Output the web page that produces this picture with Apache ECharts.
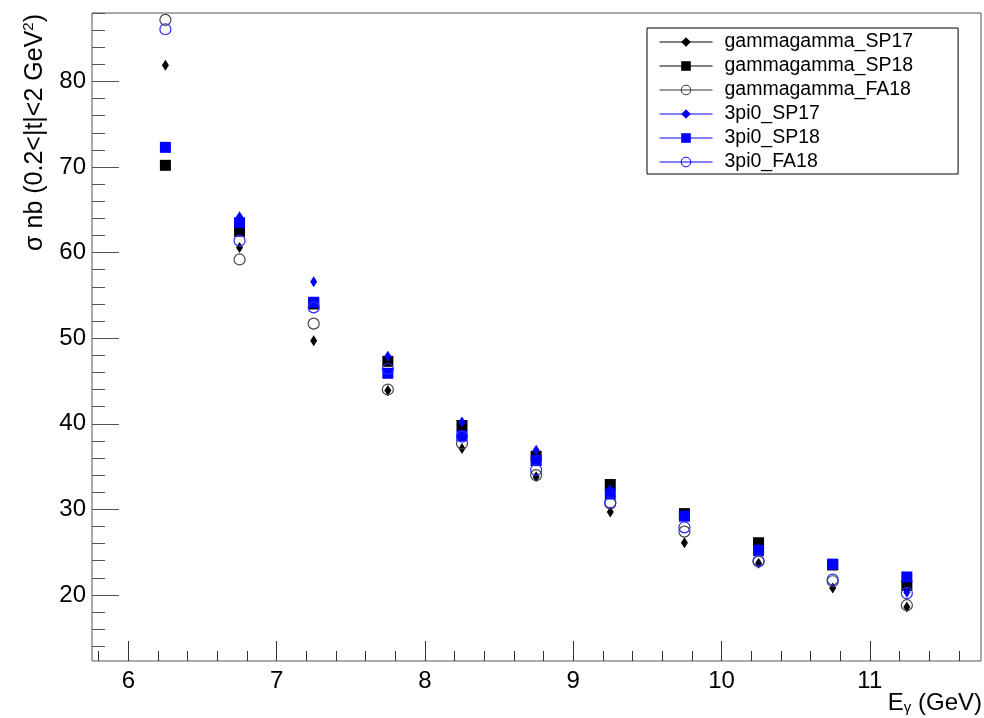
<!DOCTYPE html>
<html>
<head>
<meta charset="utf-8">
<script src="https://cdn.jsdelivr.net/npm/echarts@6/dist/echarts.min.js"></script>
<style>
  html, body { margin: 0; padding: 0; background: #fff; }
  #chart { width: 984px; height: 718px; }
</style>
</head>
<body>
<div id="chart"></div>
<script>
// beam energy bins (GeV)
const energies = [6.25, 6.75, 7.25, 7.75, 8.25, 8.75, 9.25, 9.75, 10.25, 10.75, 11.25];

// cross sections, nb
const ggSP17 = [81.9, 60.6, 49.7, 43.9, 37.1, 33.8, 29.7, 26.1, 23.7, 20.8, 18.6];
const ggSP18 = [70.2, 62.5, 54.0, 47.3, 39.8, 36.2, 32.9, 29.5, 26.1, 23.5, 21.1];
const ggFA18 = [87.2, 59.2, 51.7, 44.0, 37.7, 34.0, 30.7, 27.4, 23.9, 21.6, 18.8];
const piSP17 = [null, 64.2, 56.6, 47.9, 40.2, 36.9, 32.3, 29.3, 25.4, 23.6, 20.3];
const piSP18 = [72.3, 63.5, 54.2, 45.9, 38.6, 35.7, 31.8, 29.2, 25.2, 23.6, 22.1];
const piFA18 = [86.1, 61.4, 53.6, 46.4, 38.5, 34.6, 30.8, 27.9, 24.0, 21.8, 20.2];

// axis ticks
const xMajor = [6, 7, 8, 9, 10, 11];
const xMinor = [5.8, 6.2, 6.4, 6.6, 6.8, 7.2, 7.4, 7.6, 7.8, 8.2, 8.4, 8.6, 8.8,
  9.2, 9.4, 9.6, 9.8, 10.2, 10.4, 10.6, 10.8, 11.2, 11.4, 11.6];
const yMajor = [20, 30, 40, 50, 60, 70, 80];
const yMinor = [14, 16, 18, 22, 24, 26, 28, 32, 34, 36, 38, 42, 44, 46, 48,
  52, 54, 56, 58, 62, 64, 66, 68, 72, 74, 76, 78, 82, 84, 86, 88];

const FONT = '"Liberation Sans", Arial, sans-serif';
const BLUE = '#0000ff';
const DIAMOND = 'path://M3,0L6,5L3,10L0,5Z';

const chart = echarts.init(document.getElementById('chart'), null, { renderer: 'canvas' });

const pairs = vals => energies.map((e, i) => [e, vals[i]]).filter(p => p[1] != null);

const mk = (name, vals, symbol, size, color, hollow) => ({
  name: name,
  type: 'line',
  data: pairs(vals),
  symbol: symbol,
  symbolSize: size,
  showAllSymbol: true,
  lineStyle: { opacity: 0, color: color },
  itemStyle: hollow
    ? { color: 'rgba(0,0,0,0)', borderColor: color, borderWidth: 1.2 }
    : { color: color },
  emphasis: { disabled: true },
  animation: false
});

const series = [
  mk('gammagamma_SP17', ggSP17, DIAMOND, [7, 11], '#000', false),
  mk('gammagamma_SP18', ggSP18, 'rect', 11, '#000', false),
  mk('gammagamma_FA18', ggFA18, 'circle', 11, '#444', true),
  mk('3pi0_SP17', piSP17, DIAMOND, [7, 11], BLUE, false),
  mk('3pi0_SP18', piSP18, 'rect', 11, BLUE, false),
  mk('3pi0_FA18', piFA18, 'circle', 11, '#2a2aff', true)
];

const legendItem = (name, color, hollow) => ({
  name: name,
  lineStyle: { color: color, width: 1, opacity: 1 },
  itemStyle: hollow
    ? { color: 'rgba(0,0,0,0)', borderColor: color, borderWidth: 1 }
    : { color: color }
});

const option = {
  animation: false,
  backgroundColor: '#fff',
  grid: {
    left: 92, right: 3, top: 13, bottom: 57,
    show: true, borderColor: '#555', borderWidth: 1, backgroundColor: 'transparent'
  },
  xAxis: [
    {
      type: 'value', min: 5.755, max: 11.75,
      axisLine: { show: false },
      splitLine: { show: false },
      axisTick: { inside: true, length: 20, customValues: xMajor, lineStyle: { color: '#333' } },
      axisLabel: { customValues: xMajor, fontSize: 24, fontFamily: FONT, color: '#000', margin: 8 }
    },
    {
      type: 'value', min: 5.755, max: 11.75, position: 'bottom',
      axisLine: { show: false },
      splitLine: { show: false },
      axisTick: { inside: true, length: 10, customValues: xMinor, lineStyle: { color: '#333' } },
      axisLabel: { show: false }
    }
  ],
  yAxis: [
    {
      type: 'value', min: 12.28, max: 88.0,
      axisLine: { show: false },
      splitLine: { show: false },
      axisTick: { inside: true, length: 27, customValues: yMajor, lineStyle: { color: '#555' } },
      axisLabel: { customValues: yMajor, fontSize: 24, fontFamily: FONT, color: '#000', margin: 6 }
    },
    {
      type: 'value', min: 12.28, max: 88.0, position: 'left',
      axisLine: { show: false },
      splitLine: { show: false },
      axisTick: { inside: true, length: 13, customValues: yMinor, lineStyle: { color: '#555' } },
      axisLabel: { show: false }
    }
  ],
  legend: {
    orient: 'vertical',
    left: 647, top: 28,
    itemWidth: 53, itemHeight: 12, itemGap: 4,
    padding: [4, 45, 2, 12],
    borderColor: '#000', borderWidth: 1,
    backgroundColor: '#fff',
    selectedMode: false,
    textStyle: { fontSize: 19.5, lineHeight: 20, fontFamily: FONT, color: '#000', padding: [0, 0, 0, 7] },
    data: [
      legendItem('gammagamma_SP17', '#000', false),
      legendItem('gammagamma_SP18', '#000', false),
      legendItem('gammagamma_FA18', '#333', true),
      legendItem('3pi0_SP17', BLUE, false),
      legendItem('3pi0_SP18', BLUE, false),
      legendItem('3pi0_FA18', BLUE, true)
    ]
  },
  graphic: [
    {
      type: 'text', x: 35, y: 14, rotation: Math.PI / 2,
      style: {
        text: '{a|σ nb (0.2<|t|<2 GeV}{s|2}{a|)}',
        textAlign: 'right',
        textVerticalAlign: 'middle',
        rich: {
          a: { fontSize: 25, fontFamily: FONT, color: '#000' },
          s: { fontSize: 15, fontFamily: FONT, color: '#000', padding: [0, 0, 12, 0] }
        }
      }
    },
    {
      type: 'text', x: 982, y: 703,
      style: {
        text: '{a|E}{g|γ}{a| (GeV)}',
        textAlign: 'right',
        textVerticalAlign: 'middle',
        rich: {
          a: { fontSize: 24, fontFamily: FONT, color: '#000' },
          g: { fontSize: 15, fontFamily: FONT, color: '#000', padding: [10, 0, 0, 0] }
        }
      }
    }
  ],
  series: series
};

chart.setOption(option);
</script>
</body>
</html>
